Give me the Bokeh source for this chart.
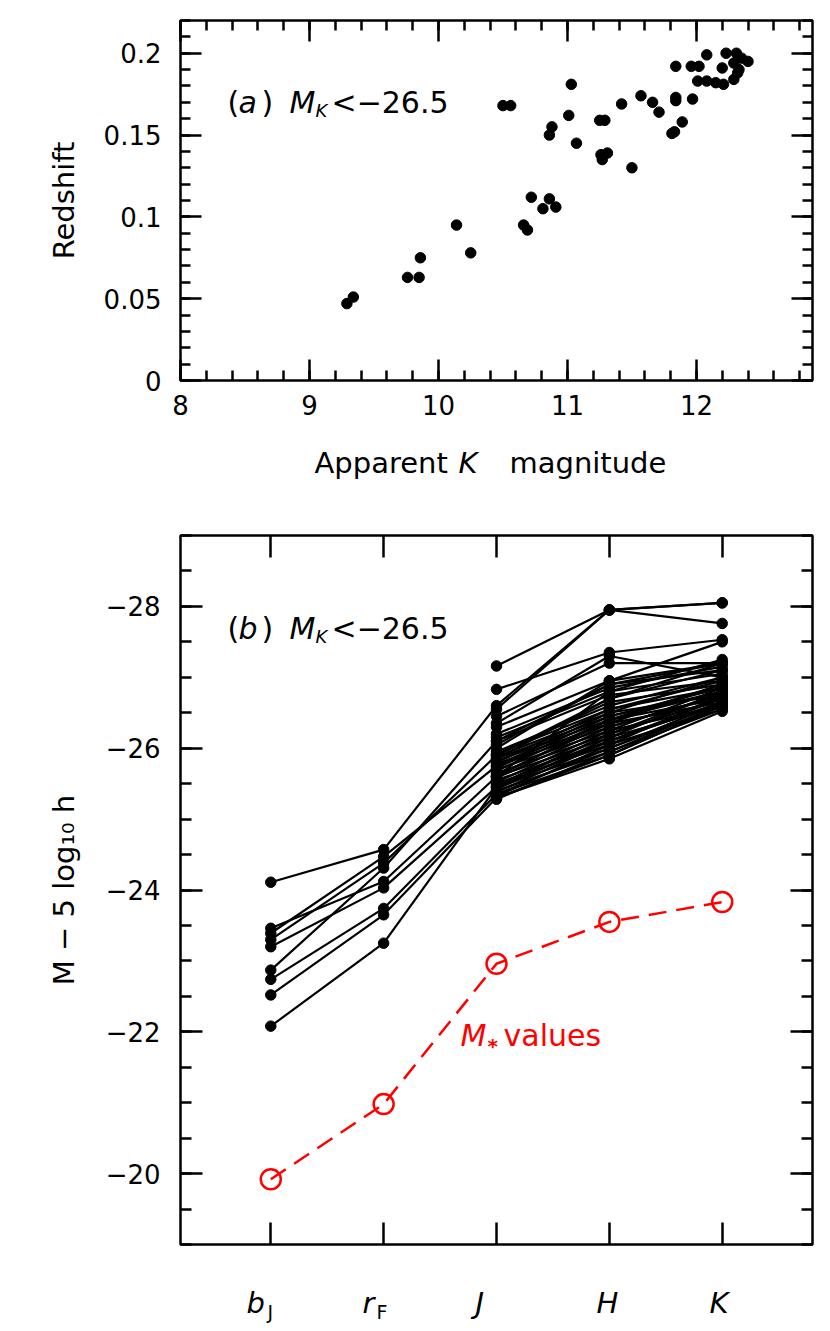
import numpy as np
from math import pi
from bokeh.plotting import figure
from bokeh.layouts import column
from bokeh.models import Range1d, LinearAxis, FixedTicker, NumeralTickFormatter, Label
from bokeh.embed import file_html
from bokeh.resources import INLINE

# ---------------- data: panel (a) ----------------
apparent_k = [9.29, 9.34, 9.76, 9.85, 9.86, 10.14, 10.25, 10.66, 10.69, 10.72,
              10.81, 10.86, 10.91, 10.50, 10.56, 10.86, 10.88, 11.03, 11.01, 11.07,
              11.25, 11.29, 11.26, 11.27, 11.31, 11.42, 11.50, 11.57, 11.66, 11.71,
              11.81, 11.83, 11.89, 11.84, 11.84, 11.84, 11.97, 11.96, 12.02, 12.08,
              12.01, 12.08, 12.15, 12.21, 12.20, 12.29, 12.23, 12.31, 12.35, 12.29,
              12.33, 12.32, 12.40]
redshift = [0.047, 0.051, 0.063, 0.063, 0.075, 0.095, 0.078, 0.095, 0.092, 0.112,
            0.105, 0.111, 0.106, 0.168, 0.168, 0.150, 0.155, 0.181, 0.162, 0.145,
            0.159, 0.159, 0.138, 0.135, 0.139, 0.169, 0.130, 0.174, 0.170, 0.164,
            0.151, 0.152, 0.158, 0.173, 0.171, 0.192, 0.172, 0.192, 0.192, 0.199,
            0.183, 0.183, 0.182, 0.181, 0.191, 0.184, 0.200, 0.200, 0.197, 0.194,
            0.190, 0.188, 0.195]

# ---------------- data: panel (b) ----------------
band_main = ["b", "r", "J", "H", "K"]
band_sub = ["J", "F", "", "", ""]
band_pos = [1, 2, 3, 4, 5]

# objects with optical photometry (first 9 objects)
mag_bJ = [-24.11, -23.46, -23.39, -23.30, -23.20, -22.87, -22.74, -22.52, -22.08]
mag_rF = [-24.57, -24.12, -24.47, -24.38, -24.03, -24.31, -23.74, -23.65, -23.25]
# near-infrared for all objects
mag_J = [-26.60, -25.60, -25.75, -25.90, -25.45, -26.10, -25.35, -25.30, -25.45,
         -27.16, -26.83, -26.55, -26.45, -26.35, -26.30, -26.20, -26.15, -26.10, -26.05,
         -25.95, -25.92, -25.90, -25.88, -25.85, -25.82, -25.80, -25.78, -25.75, -25.72,
         -25.70, -25.68, -25.65, -25.62, -25.60, -25.58, -25.55, -25.52, -25.50, -25.48,
         -25.45, -25.42, -25.40, -25.38, -25.35, -25.32, -25.30, -25.28, -25.60, -26.00,
         -25.85]
mag_H = [-27.95, -26.40, -26.50, -26.70, -26.20, -26.90, -26.00, -25.90, -26.10,
         -27.95, -27.35, -27.95, -27.20, -27.30, -26.95, -26.85, -26.80, -26.75, -26.90,
         -26.60, -26.55, -26.65, -26.50, -26.45, -26.40, -26.55, -26.35, -26.30, -26.45,
         -26.25, -26.40, -26.20, -26.35, -26.15, -26.30, -26.10, -26.25, -26.05, -26.20,
         -26.00, -26.15, -25.95, -26.10, -25.90, -26.05, -25.85, -25.95, -26.80, -26.95,
         -26.70]
mag_K = [-28.05, -26.90, -27.00, -27.10, -26.80, -27.20, -26.65, -26.60, -26.70,
         -28.05, -27.53, -27.76, -27.20, -27.00, -27.50, -27.15, -27.05, -26.95, -27.10,
         -27.00, -26.85, -26.90, -26.75, -26.80, -26.70, -26.95, -26.65, -26.75, -26.85,
         -26.60, -26.80, -26.70, -26.90, -26.60, -26.75, -26.65, -26.85, -26.55, -26.70,
         -26.60, -26.80, -26.55, -26.65, -26.60, -26.75, -26.52, -26.62, -27.25, -27.20,
         -27.20]
# characteristic magnitudes M*
mstar = [-19.92, -20.98, -22.96, -23.55, -23.83]

# ---------------- layout (page pixels) ----------------
FONT = "DejaVu Sans"
FL, FW = 180, 632            # frame left / width (both panels)
RB = 10                      # right border
T_T, T_H = 20, 360           # panel (a) frame top / height
P1_BOTTOM = 430              # end of panel (a) figure
P1X_BOTTOM = 515             # end of x-title strip
B_T, B_H = 535, 709          # panel (b) frame top / height
P2_BOTTOM = 1248
P2X_BOTTOM = 1328
XR1 = (8, 12.9)
YR1 = (0, 0.22)
XR2 = (0.2, 5.8)
YR2 = (-19, -29)


def tx(px):
    return XR1[0] + (px - FL) * (XR1[1] - XR1[0]) / FW


def ty(py):
    return YR1[1] - (py - T_T) * (YR1[1] - YR1[0]) / T_H


def bx(px):
    return XR2[0] + (px - FL) * (XR2[1] - XR2[0]) / FW


def by(py):
    return YR2[1] + (py - B_T) * (YR2[0] - YR2[1]) / B_H


def make_axis(ticks, minor, labels, standoff=18, tick_len=21, minor_len=10):
    ax = LinearAxis(ticker=FixedTicker(ticks=ticks, minor_ticks=minor))
    ax.axis_line_color = None
    ax.major_tick_in = tick_len
    ax.major_tick_out = 0
    ax.minor_tick_in = minor_len
    ax.minor_tick_out = 0
    ax.major_tick_line_width = 2.5
    ax.minor_tick_line_width = 2.5
    ax.major_tick_line_color = "black"
    ax.minor_tick_line_color = "black"
    ax.major_label_text_font = FONT
    if labels:
        ax.major_label_text_color = "black"
        ax.major_label_text_font_size = "26px"
        ax.major_label_standoff = standoff
    else:
        ax.major_label_text_color = None
        ax.major_label_text_font_size = "1px"
        ax.major_label_standoff = 0
    ax.axis_label_text_font = FONT
    ax.axis_label_text_font_size = "29px"
    ax.axis_label_text_font_style = "normal"
    ax.axis_label_text_color = "black"
    return ax


def add_label(p, x, y, text, size=29, style="normal", color="black", angle=0.0,
              align="left"):
    p.add_layout(Label(x=x, y=y, text=text, text_font=FONT, text_font_size=f"{size}px",
                       text_font_style=style, text_color=color, angle=angle,
                       text_align=align, text_baseline="alphabetic"))


def base_fig(x_range, y_range, frame_h, top, bottom):
    f = figure(frame_width=FW, frame_height=frame_h, x_range=x_range, y_range=y_range,
               min_border_left=FL, min_border_right=RB,
               min_border_top=top, min_border_bottom=bottom,
               x_axis_location=None, y_axis_location=None, title_location=None,
               output_backend="svg", toolbar_location=None)
    f.grid.visible = False
    f.background_fill_color = "white"
    f.border_fill_color = "white"
    return f


# ================= panel (a) =================
p1 = base_fig(Range1d(*XR1), Range1d(*YR1), T_H, T_T, P1_BOTTOM - T_T - T_H)
p1.outline_line_color = "black"
p1.outline_line_width = 2.5

xt1 = [8, 9, 10, 11, 12]
xm1 = [round(v, 2) for v in np.arange(8, 12.91, 0.2)]
yt1 = [0, 0.05, 0.1, 0.15, 0.2]
ym1 = [round(v, 3) for v in np.arange(0, 0.2201, 0.01)]

ax_b = make_axis(xt1, xm1, True, standoff=14)
ax_t = make_axis(xt1, xm1, False)
ax_l = make_axis(yt1, ym1, True, standoff=19)
ax_l.formatter = NumeralTickFormatter(format="0.[00]")
ax_l.axis_label = "Redshift"
ax_l.axis_label_standoff = 20
ax_r = make_axis(yt1, ym1, False)
p1.add_layout(ax_b, "below")
p1.add_layout(ax_t, "above")
p1.add_layout(ax_l, "left")
p1.add_layout(ax_r, "right")

p1.scatter(apparent_k, redshift, size=10.5, color="black", marker="circle")


def tag(p, fx, fy, base, letter):
    add_label(p, fx(227), fy(base), "(", size=30)
    add_label(p, fx(238), fy(base), letter, size=30, style="italic")
    add_label(p, fx(261), fy(base), ")", size=30)
    add_label(p, fx(289), fy(base), "M", size=30, style="italic")
    add_label(p, fx(315), fy(base + 8), "K", size=18, style="italic")
    add_label(p, fx(331), fy(base), "<\u221226.5", size=30)


tag(p1, tx, ty, 102, "a")

# ---- x-axis title strip for panel (a) (page-pixel data space) ----
p1x = base_fig(Range1d(FL, FL + FW), Range1d(P1X_BOTTOM, P1_BOTTOM),
               P1X_BOTTOM - P1_BOTTOM, 0, 0)
p1x.outline_line_color = None
add_label(p1x, 314, 462, "Apparent")
add_label(p1x, 458, 462, "K", style="italic")
add_label(p1x, 509, 462, "magnitude")

# ================= panel (b) =================
p2 = base_fig(Range1d(*XR2), Range1d(*YR2), B_H, B_T - P1X_BOTTOM, P2_BOTTOM - B_T - B_H)
p2.outline_line_color = "black"
p2.outline_line_width = 2.5

yt2 = [-28, -26, -24, -22, -20]
ym2 = [float(v) for v in np.arange(-29, -18.99, 0.5)]
bx_b = make_axis(band_pos, [], False, tick_len=22)
bx_t = make_axis(band_pos, [], False, tick_len=22)
by_l = make_axis(yt2, ym2, True, standoff=20, tick_len=22, minor_len=11)
by_l.major_label_overrides = {v: "\u2212" + str(abs(v)) for v in yt2}
by_l.axis_label = "M \u2212 5 log\u2081\u2080 h"
by_l.axis_label_standoff = 22
by_r = make_axis(yt2, ym2, False, tick_len=22, minor_len=11)
p2.add_layout(bx_b, "below")
p2.add_layout(bx_t, "above")
p2.add_layout(by_l, "left")
p2.add_layout(by_r, "right")

n_opt = len(mag_bJ)
xs, ys = [], []
for i in range(len(mag_J)):
    if i < n_opt:
        xs.append(band_pos)
        ys.append([mag_bJ[i], mag_rF[i], mag_J[i], mag_H[i], mag_K[i]])
    else:
        xs.append(band_pos[2:])
        ys.append([mag_J[i], mag_H[i], mag_K[i]])
p2.multi_line(xs, ys, line_color="black", line_width=2.2)

px_all = [band_pos[0]] * n_opt + [band_pos[1]] * n_opt + [band_pos[2]] * len(mag_J) \
    + [band_pos[3]] * len(mag_H) + [band_pos[4]] * len(mag_K)
py_all = mag_bJ + mag_rF + mag_J + mag_H + mag_K
p2.scatter(px_all, py_all, size=10.5, color="black", marker="circle")

p2.line(band_pos, mstar, line_color="#ff0000", line_width=2.5, line_dash="18 10")
p2.scatter(band_pos, mstar, marker="circle", size=20, fill_color=None,
           line_color="#ff0000", line_width=2.5)

tag(p2, bx, by, 628, "b")

add_label(p2, bx(460), by(1035), "M", size=30, style="italic", color="#ff0000")
add_label(p2, bx(487), by(1045), "*", size=20, style="bold", color="#ff0000")
add_label(p2, bx(503), by(1035), "values", size=30, color="#ff0000")

# ---- band-name strip below panel (b) (page-pixel data space) ----
p2x = base_fig(Range1d(FL, FL + FW), Range1d(P2X_BOTTOM, P2_BOTTOM),
               P2X_BOTTOM - P2_BOTTOM, 0, 0)
p2x.outline_line_color = None
main_left = [246, 362, 475, 596, 709]
sub_left = [267, 376, 0, 0, 0]
for name, sub, ml, sl in zip(band_main, band_sub, main_left, sub_left):
    add_label(p2x, ml, 1302, name, size=29, style="italic")
    if sub:
        add_label(p2x, sl, 1311, sub, size=19)

layout = column(p1, p1x, p2, p2x)
open("out.html", "w").write(file_html(layout, INLINE))
